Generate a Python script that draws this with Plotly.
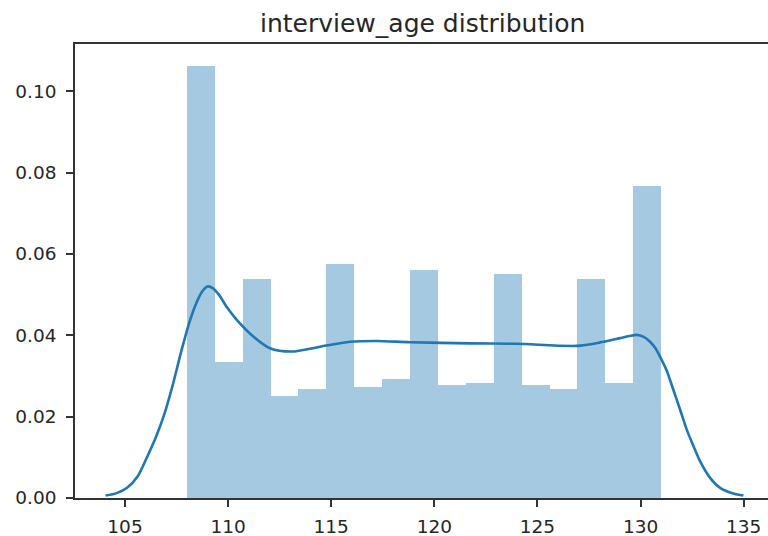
import numpy as np
import plotly.graph_objects as go

# Histogram of interview_age (density-normalised), 17 equal bins over [108, 131]
bin_start = 108.0
bin_end = 131.0
n_bins = 17
density = [0.1063, 0.0334, 0.0539, 0.0251, 0.0267, 0.0575, 0.0272, 0.0292, 0.0560,
           0.0277, 0.0283, 0.0550, 0.0277, 0.0267, 0.0539, 0.0283, 0.0766]

# Kernel density estimate of the same column
kde_x = [104.06, 104.6, 105.1, 105.6, 106.1, 106.5, 106.9, 107.3, 107.7, 108.1,
         108.45, 108.75, 109.0, 109.25, 109.55, 109.95, 110.42, 111.22, 112.03, 113.08,
         114.46, 115.91, 117.2, 118.82, 121.73, 123.99, 126.9, 128.0, 129.0, 129.45,
         129.82, 130.15, 130.46, 130.72, 130.98, 131.27, 131.59, 131.92, 132.24, 132.57,
         132.89, 133.38, 133.86, 134.5, 134.99]
kde_y = [0.0006, 0.0012, 0.0025, 0.0052, 0.0104, 0.0150, 0.0205, 0.0275, 0.0355, 0.0428,
         0.0478, 0.0508, 0.0520, 0.0516, 0.0500, 0.0468, 0.0438, 0.0397, 0.0368, 0.0360,
         0.0372, 0.0384, 0.0386, 0.0383, 0.0380, 0.0379, 0.0374, 0.0382, 0.0393, 0.0398,
         0.0401, 0.0396, 0.0384, 0.0368, 0.0344, 0.0313, 0.0266, 0.0217, 0.0168, 0.0127,
         0.0090, 0.0049, 0.0025, 0.0011, 0.0006]

x_ticks = [105, 110, 115, 120, 125, 130, 135]
y_ticks = [0.00, 0.02, 0.04, 0.06, 0.08, 0.10]
title_text = "interview_age distribution"

edges = np.linspace(bin_start, bin_end, n_bins + 1)
centers = (edges[:-1] + edges[1:]) / 2
bin_width = edges[1] - edges[0]

FONT = "DejaVu Sans"
INK = "#262626"
SPINE = "#333333"

fig = go.Figure()
fig.add_trace(go.Bar(
    x=centers, y=density, width=bin_width,
    marker=dict(color="rgba(31,119,180,0.4)", line=dict(width=0)),
    hoverinfo="skip", showlegend=False,
))
fig.add_trace(go.Scatter(
    x=kde_x, y=kde_y, mode="lines",
    line=dict(color="#1f77b4", width=2.6, shape="spline", smoothing=0.8),
    hoverinfo="skip", showlegend=False,
))

fig.update_layout(
    width=768, height=536,
    margin=dict(l=75, r=0, t=44, b=38, pad=0),
    paper_bgcolor="white", plot_bgcolor="white",
    bargap=0,
    font=dict(family=FONT, color=INK, size=18.5),
    annotations=[dict(
        text=title_text, xref="paper", yref="paper", x=0.502, y=1,
        xanchor="center", yanchor="bottom", yshift=4, showarrow=False,
        font=dict(family=FONT, size=25, color=INK),
    )],
)
fig.update_xaxes(
    range=[102.575, 136.18], tickmode="array", tickvals=x_ticks,
    ticktext=[str(v) for v in x_ticks],
    showline=True, linecolor=SPINE, linewidth=1.7, mirror=True,
    ticks="outside", ticklen=7, tickwidth=1.6, tickcolor=SPINE,
    showgrid=False, zeroline=False, ticklabelstandoff=4,
    tickfont=dict(family=FONT, size=18.5, color=INK),
)
fig.update_yaxes(
    range=[0, 0.1116], tickmode="array", tickvals=y_ticks,
    ticktext=[f"{v:.2f}" for v in y_ticks],
    showline=True, linecolor=SPINE, linewidth=1.7, mirror=False,
    ticks="outside", ticklen=7, tickwidth=1.6, tickcolor=SPINE,
    showgrid=False, zeroline=False, ticklabelstandoff=6,
    tickfont=dict(family=FONT, size=18.5, color=INK),
)

fig.write_html("out.html")
